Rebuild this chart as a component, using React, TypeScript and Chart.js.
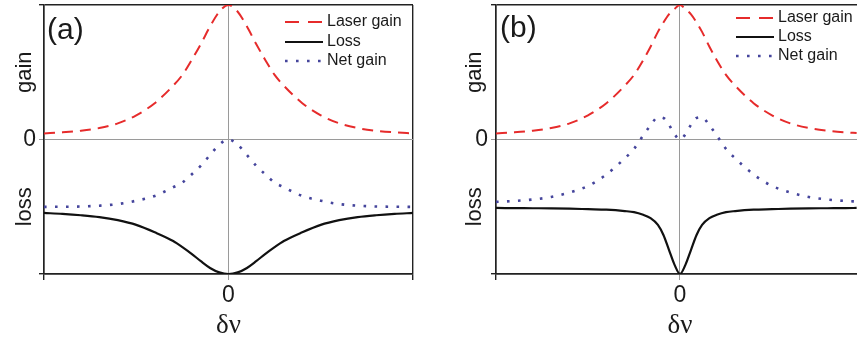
import React, { useEffect, useRef } from 'react';
import { Chart, registerables } from 'chart.js';
Chart.register(...registerables);

const FONT = '"Liberation Sans", Arial, Helvetica, sans-serif';
const SERIF = '"Liberation Serif", "DejaVu Serif", serif';

// ---- data: panel (a) ----
const XS_A = [-1, -0.9, -0.8, -0.7, -0.6, -0.5, -0.4, -0.3, -0.25, -0.2, -0.15, -0.1, -0.05, 0,
  0.05, 0.1, 0.15, 0.2, 0.25, 0.3, 0.4, 0.5, 0.6, 0.7, 0.8, 0.9, 1];
const LASER_A = [0.045, 0.053, 0.065, 0.085, 0.12, 0.18, 0.27, 0.40, 0.48, 0.59, 0.71, 0.84, 0.95, 1,
  0.95, 0.84, 0.71, 0.59, 0.48, 0.40, 0.27, 0.18, 0.12, 0.085, 0.065, 0.053, 0.045];
const LOSS_A = [-0.546, -0.553, -0.563, -0.577, -0.60, -0.635, -0.69, -0.755, -0.80, -0.85, -0.905, -0.955, -0.988, -1,
  -0.988, -0.955, -0.905, -0.85, -0.80, -0.755, -0.69, -0.635, -0.60, -0.577, -0.563, -0.553, -0.546];
const NET_A = [-0.501, -0.50, -0.498, -0.492, -0.48, -0.455, -0.42, -0.355, -0.32, -0.26, -0.195, -0.115, -0.038, 0,
  -0.038, -0.115, -0.195, -0.26, -0.32, -0.355, -0.42, -0.455, -0.48, -0.492, -0.498, -0.50, -0.501];

// ---- data: panel (b) ----
const XS_B = [-1, -0.9, -0.8, -0.7, -0.6, -0.5, -0.4, -0.3, -0.25, -0.2, -0.16, -0.12, -0.09, -0.06, -0.03, 0,
  0.03, 0.06, 0.09, 0.12, 0.16, 0.2, 0.25, 0.3, 0.4, 0.5, 0.6, 0.7, 0.8, 0.9, 0.96];
const LASER_B = [0.045, 0.053, 0.065, 0.085, 0.12, 0.18, 0.27, 0.40, 0.48, 0.59, 0.69, 0.80, 0.87, 0.93, 0.97, 1,
  0.97, 0.93, 0.87, 0.80, 0.69, 0.59, 0.48, 0.40, 0.27, 0.18, 0.12, 0.085, 0.065, 0.053, 0.048];
const LOSS_B = [-0.509, -0.510, -0.511, -0.512, -0.514, -0.518, -0.522, -0.532, -0.54, -0.56, -0.585, -0.635, -0.71, -0.82, -0.93, -1,
  -0.93, -0.82, -0.71, -0.635, -0.585, -0.56, -0.54, -0.532, -0.522, -0.518, -0.514, -0.512, -0.511, -0.510, -0.509];
const NET_B = [-0.464, -0.457, -0.446, -0.427, -0.394, -0.345, -0.26, -0.14, -0.07, 0.03, 0.105, 0.165, 0.16, 0.11, 0.04, 0,
  0.04, 0.11, 0.16, 0.165, 0.105, 0.03, -0.07, -0.14, -0.26, -0.345, -0.394, -0.427, -0.446, -0.457, -0.461];

// ---- labels & ticks ----
const LEGEND_LABELS = ['Laser gain', 'Loss', 'Net gain'];
const Y_LABELS = ['gain', 'loss'];
const TAGS = ['(a)', '(b)'];
const X_TITLE = 'δν';
const X_TICKS_A = [-1, 0, 1];
const X_TICKS_B = [-1, 0];
const Y_TICKS = [-1, 0, 1];

const RED = '#e62b2b';
const BLACK = '#111111';
const BLUE = '#45459c';
const DARK = '#222222';
const GRAY = '#9a9a9a';
const TEXT = '#1a1a1a';

type PanelProps = {
  tag: string;
  xs: number[];
  laser: number[];
  loss: number[];
  net: number[];
  xMax: number;
  xTicks: number[];
  left: number;
  width: number;
  yAxisWidth: number;
  padRight: number;
  yLabelX: number;
  tagX: number;
  tagY: number;
  legendX: number;
  legendY: number[];
};

function Panel(p: PanelProps) {
  const ref = useRef<HTMLCanvasElement>(null);
  useEffect(() => {
    const canvas = ref.current;
    if (!canvas) return;
    const mk = (ys: number[]) => p.xs.map((x, i) => ({ x, y: ys[i] }));
    const legendDash = [[14, 9], [], [2.6, 8.4]];
    const overlay = {
      id: 'overlay',
      afterDraw(chart: any) {
        const ctx = chart.ctx;
        const ySc = chart.scales.y;
        const xSc = chart.scales.x;
        ctx.save();
        ctx.fillStyle = TEXT;
        ctx.textAlign = 'center';
        ctx.textBaseline = 'middle';
        ctx.font = `22px ${FONT}`;
        const yl: [string, number][] = [[Y_LABELS[0], 0.5], [Y_LABELS[1], -0.5]];
        yl.forEach(([t, v]) => {
          ctx.save();
          ctx.translate(p.yLabelX, ySc.getPixelForValue(v));
          ctx.rotate(-Math.PI / 2);
          ctx.fillText(t, 0, 0);
          ctx.restore();
        });
        ctx.font = `30px ${FONT}`;
        ctx.textAlign = 'left';
        ctx.fillText(p.tag, p.tagX, p.tagY);
        ctx.font = `27px ${SERIF}`;
        ctx.textAlign = 'center';
        ctx.fillText(X_TITLE, xSc.getPixelForValue(0), 326);
        chart.data.datasets.forEach((ds: any, i: number) => {
          const y = p.legendY[i];
          ctx.save();
          ctx.strokeStyle = ds.borderColor;
          ctx.lineWidth = ds.borderWidth;
          ctx.setLineDash(legendDash[i]);
          ctx.lineCap = 'butt';
          ctx.beginPath();
          ctx.moveTo(p.legendX, y);
          ctx.lineTo(p.legendX + 38, y);
          ctx.stroke();
          ctx.restore();
          ctx.font = `16px ${FONT}`;
          ctx.textAlign = 'left';
          ctx.fillStyle = TEXT;
          ctx.fillText(ds.label, p.legendX + 42, y);
        });
        ctx.restore();
      },
    };
    const chart = new Chart(canvas, {
      type: 'line',
      data: {
        datasets: [
          { label: LEGEND_LABELS[0], data: mk(p.laser), borderColor: RED, borderWidth: 2, borderDash: [11, 7], pointRadius: 0, cubicInterpolationMode: 'monotone', fill: false },
          { label: LEGEND_LABELS[1], data: mk(p.loss), borderColor: BLACK, borderWidth: 2.2, pointRadius: 0, cubicInterpolationMode: 'monotone', fill: false },
          { label: LEGEND_LABELS[2], data: mk(p.net), borderColor: BLUE, borderWidth: 2.6, borderDash: [2.6, 8.4], borderCapStyle: 'butt', pointRadius: 0, cubicInterpolationMode: 'monotone', fill: false },
        ],
      } as any,
      options: {
        animation: false,
        responsive: false,
        devicePixelRatio: 1,
        layout: { padding: { top: 5, right: p.padRight, left: 0, bottom: 0 } },
        plugins: { legend: { display: false }, tooltip: { enabled: false } },
        scales: {
          x: {
            type: 'linear',
            min: -1,
            max: p.xMax,
            afterBuildTicks: (s: any) => { s.ticks = p.xTicks.map((v) => ({ value: v })); },
            afterFit: (s: any) => { s.height = 67; s.paddingLeft = 0; s.paddingRight = 0; },
            ticks: { callback: (v: any) => (v === 0 ? '0' : ''), font: { size: 23, family: FONT }, color: TEXT, padding: 2, maxRotation: 0, autoSkip: false },
            grid: {
              color: (c: any) => (c.tick && c.tick.value === 0 ? GRAY : DARK),
              lineWidth: (c: any) => (c.tick && c.tick.value === 0 ? 1 : 1.4),
              tickLength: 6,
              drawOnChartArea: true,
            },
            border: { color: DARK, width: 1.5 },
          },
          y: {
            type: 'linear',
            min: -1,
            max: 1,
            afterBuildTicks: (s: any) => { s.ticks = Y_TICKS.map((v) => ({ value: v })); },
            afterFit: (s: any) => { s.width = p.yAxisWidth; s.paddingTop = 0; s.paddingBottom = 0; },
            ticks: { callback: (v: any) => (v === 0 ? '0' : ''), font: { size: 23, family: FONT }, color: TEXT, padding: 3, autoSkip: false },
            grid: {
              color: (c: any) => (c.tick && c.tick.value === 0 ? GRAY : DARK),
              lineWidth: (c: any) => (c.tick && c.tick.value === 0 ? 1 : 1.4),
              tickLength: 5,
              drawOnChartArea: true,
            },
            border: { color: DARK, width: 1.5 },
          },
        },
      } as any,
      plugins: [overlay],
    });
    return () => chart.destroy();
  }, []);
  return (
    <canvas
      ref={ref}
      width={p.width}
      height={341}
      style={{ position: 'absolute', left: p.left, top: 0, width: p.width, height: 341, display: 'block' }}
    />
  );
}

export default function App() {
  return (
    <div style={{ position: 'absolute', left: 0, top: 0, width: 857, height: 341, background: '#fff', overflow: 'hidden' }}>
      <Panel tag={TAGS[0]} xs={XS_A} laser={LASER_A} loss={LOSS_A} net={NET_A} xMax={1} xTicks={X_TICKS_A}
        left={0} width={430} yAxisWidth={44} padRight={17} yLabelX={25} tagX={47} tagY={31}
        legendX={285} legendY={[22, 42, 61]} />
      <Panel tag={TAGS[1]} xs={XS_B} laser={LASER_B} loss={LOSS_B} net={NET_B} xMax={0.962} xTicks={X_TICKS_B}
        left={430} width={427} yAxisWidth={66} padRight={0} yLabelX={45} tagX={70} tagY={29}
        legendX={306} legendY={[18, 37, 56]} />
    </div>
  );
}
